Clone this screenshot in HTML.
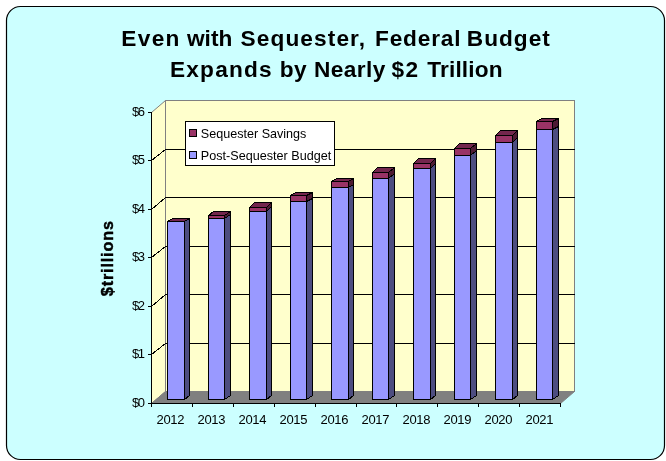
<!DOCTYPE html><html><head><meta charset="utf-8"><title>Chart</title>
<style>html,body{margin:0;padding:0;background:#fff}svg{display:block}text{font-family:"Liberation Sans",sans-serif;fill:#000}</style></head><body>
<svg width="666" height="461" viewBox="0 0 666 461">
<rect x="6.5" y="6.5" width="658" height="453" rx="14" ry="14" fill="#ccffff" stroke="#000" stroke-width="1.2"/>
<g shape-rendering="crispEdges">
<rect x="165.5" y="100.5" width="409.0" height="291.0" fill="#ffffcc" stroke="#808080" stroke-width="1"/>
</g>
<polygon points="151.5,112.5 165.5,100.5 165.5,391.5 151.5,403.5" fill="#ffffcc" stroke="#808080" stroke-width="1"/>
<polygon points="151.5,403.5 560.5,403.5 574.5,391.5 165.5,391.5" fill="#808080" stroke="#808080" stroke-width="1"/>
<g fill="none" stroke="#000" stroke-width="1" shape-rendering="crispEdges">
<polyline points="151.5,354.5 165.5,343.5 574.5,343.5"/>
<polyline points="151.5,306.5 165.5,294.5 574.5,294.5"/>
<polyline points="151.5,257.5 165.5,246.5 574.5,246.5"/>
<polyline points="151.5,209.5 165.5,197.5 574.5,197.5"/>
<polyline points="151.5,160.5 165.5,149.5 574.5,149.5"/>
</g>
<g stroke="#000" stroke-width="1" shape-rendering="crispEdges">
<line x1="151.5" y1="112.0" x2="151.5" y2="404.0"/>
<line x1="151.5" y1="403.5" x2="561.0" y2="403.5"/>
<line x1="148.0" y1="403.5" x2="151.5" y2="403.5"/>
<line x1="148.0" y1="354.5" x2="151.5" y2="354.5"/>
<line x1="148.0" y1="306.5" x2="151.5" y2="306.5"/>
<line x1="148.0" y1="257.5" x2="151.5" y2="257.5"/>
<line x1="148.0" y1="209.5" x2="151.5" y2="209.5"/>
<line x1="148.0" y1="160.5" x2="151.5" y2="160.5"/>
<line x1="148.0" y1="112.5" x2="151.5" y2="112.5"/>
<line x1="151.5" y1="403.5" x2="151.5" y2="407.0"/>
<line x1="192.5" y1="403.5" x2="192.5" y2="407.0"/>
<line x1="233.5" y1="403.5" x2="233.5" y2="407.0"/>
<line x1="274.5" y1="403.5" x2="274.5" y2="407.0"/>
<line x1="315.5" y1="403.5" x2="315.5" y2="407.0"/>
<line x1="356.5" y1="403.5" x2="356.5" y2="407.0"/>
<line x1="396.5" y1="403.5" x2="396.5" y2="407.0"/>
<line x1="437.5" y1="403.5" x2="437.5" y2="407.0"/>
<line x1="478.5" y1="403.5" x2="478.5" y2="407.0"/>
<line x1="519.5" y1="403.5" x2="519.5" y2="407.0"/>
<line x1="560.5" y1="403.5" x2="560.5" y2="407.0"/>
</g>
<g stroke="#000" stroke-width="1" shape-rendering="crispEdges">
<polygon points="184.5,399.5 189.5,395.5 189.5,218.5 184.5,221.5" fill="#4d4d80"/>
<polygon points="167.5,221.5 184.5,221.5 189.5,218.5 172.5,218.5" fill="#73264d"/>
<rect x="167.5" y="221.5" width="17" height="178.0" fill="#9999ff"/>
<polygon points="224.5,399.5 230.5,395.5 230.5,214.5 224.5,218.5" fill="#4d4d80"/>
<polygon points="224.5,218.5 230.5,214.5 230.5,211.5 224.5,215.5" fill="#4d1a33"/>
<polygon points="208.5,215.5 224.5,215.5 230.5,211.5 213.5,211.5" fill="#73264d"/>
<rect x="208.5" y="218.5" width="16" height="181.0" fill="#9999ff"/>
<rect x="208.5" y="215.5" width="16" height="3.0" fill="#993366"/>
<polygon points="266.5,399.5 271.5,395.5 271.5,206.5 266.5,211.5" fill="#4d4d80"/>
<polygon points="266.5,211.5 271.5,206.5 271.5,202.5 266.5,207.5" fill="#4d1a33"/>
<polygon points="249.5,207.5 266.5,207.5 271.5,202.5 254.5,202.5" fill="#73264d"/>
<rect x="249.5" y="211.5" width="17" height="188.0" fill="#9999ff"/>
<rect x="249.5" y="207.5" width="17" height="4.0" fill="#993366"/>
<polygon points="306.5,399.5 312.5,395.5 312.5,198.5 306.5,201.5" fill="#4d4d80"/>
<polygon points="306.5,201.5 312.5,198.5 312.5,192.5 306.5,195.5" fill="#4d1a33"/>
<polygon points="290.5,195.5 306.5,195.5 312.5,192.5 295.5,192.5" fill="#73264d"/>
<rect x="290.5" y="201.5" width="16" height="198.0" fill="#9999ff"/>
<rect x="290.5" y="195.5" width="16" height="6.0" fill="#993366"/>
<polygon points="348.5,399.5 353.5,395.5 353.5,184.5 348.5,187.5" fill="#4d4d80"/>
<polygon points="348.5,187.5 353.5,184.5 353.5,178.5 348.5,181.5" fill="#4d1a33"/>
<polygon points="331.5,181.5 348.5,181.5 353.5,178.5 336.5,178.5" fill="#73264d"/>
<rect x="331.5" y="187.5" width="17" height="212.0" fill="#9999ff"/>
<rect x="331.5" y="181.5" width="17" height="6.0" fill="#993366"/>
<polygon points="388.5,399.5 394.5,395.5 394.5,173.5 388.5,178.5" fill="#4d4d80"/>
<polygon points="388.5,178.5 394.5,173.5 394.5,167.5 388.5,172.5" fill="#4d1a33"/>
<polygon points="372.5,172.5 388.5,172.5 394.5,167.5 377.5,167.5" fill="#73264d"/>
<rect x="372.5" y="178.5" width="16" height="221.0" fill="#9999ff"/>
<rect x="372.5" y="172.5" width="16" height="6.0" fill="#993366"/>
<polygon points="430.5,399.5 435.5,395.5 435.5,163.5 430.5,168.5" fill="#4d4d80"/>
<polygon points="430.5,168.5 435.5,163.5 435.5,158.5 430.5,163.5" fill="#4d1a33"/>
<polygon points="413.5,163.5 430.5,163.5 435.5,158.5 418.5,158.5" fill="#73264d"/>
<rect x="413.5" y="168.5" width="17" height="231.0" fill="#9999ff"/>
<rect x="413.5" y="163.5" width="17" height="5.0" fill="#993366"/>
<polygon points="470.5,399.5 476.5,395.5 476.5,150.5 470.5,155.5" fill="#4d4d80"/>
<polygon points="470.5,155.5 476.5,150.5 476.5,143.5 470.5,148.5" fill="#4d1a33"/>
<polygon points="454.5,148.5 470.5,148.5 476.5,143.5 459.5,143.5" fill="#73264d"/>
<rect x="454.5" y="155.5" width="16" height="244.0" fill="#9999ff"/>
<rect x="454.5" y="148.5" width="16" height="7.0" fill="#993366"/>
<polygon points="512.5,399.5 517.5,395.5 517.5,137.5 512.5,142.5" fill="#4d4d80"/>
<polygon points="512.5,142.5 517.5,137.5 517.5,130.5 512.5,135.5" fill="#4d1a33"/>
<polygon points="495.5,135.5 512.5,135.5 517.5,130.5 500.5,130.5" fill="#73264d"/>
<rect x="495.5" y="142.5" width="17" height="257.0" fill="#9999ff"/>
<rect x="495.5" y="135.5" width="17" height="7.0" fill="#993366"/>
<polygon points="552.5,399.5 558.5,395.5 558.5,126.5 552.5,129.5" fill="#4d4d80"/>
<polygon points="552.5,129.5 558.5,126.5 558.5,118.5 552.5,121.5" fill="#4d1a33"/>
<polygon points="536.5,121.5 552.5,121.5 558.5,118.5 541.5,118.5" fill="#73264d"/>
<rect x="536.5" y="129.5" width="16" height="270.0" fill="#9999ff"/>
<rect x="536.5" y="121.5" width="16" height="8.0" fill="#993366"/>
</g>
<g shape-rendering="crispEdges">
<rect x="185.5" y="121.5" width="149" height="44" fill="#fff" stroke="#000"/>
<rect x="189.5" y="129.5" width="7" height="7" fill="#993366" stroke="#000"/>
<rect x="189.5" y="151.5" width="7" height="7" fill="#9999ff" stroke="#000"/>
</g>
<text x="200.8" y="137.6" font-size="13" textLength="105.6" lengthAdjust="spacingAndGlyphs">Sequester Savings</text>
<text x="200.8" y="159.6" font-size="13" textLength="130.4" lengthAdjust="spacingAndGlyphs">Post-Sequester Budget</text>
<text x="132" y="407.1" font-size="13" letter-spacing="-1.5">$0</text>
<text x="132" y="358.1" font-size="13" letter-spacing="-1.5">$1</text>
<text x="132" y="310.1" font-size="13" letter-spacing="-1.5">$2</text>
<text x="132" y="261.1" font-size="13" letter-spacing="-1.5">$3</text>
<text x="132" y="213.1" font-size="13" letter-spacing="-1.5">$4</text>
<text x="132" y="164.1" font-size="13" letter-spacing="-1.5">$5</text>
<text x="132" y="116.1" font-size="13" letter-spacing="-1.5">$6</text>
<text x="156.5" y="423.6" font-size="13" letter-spacing="-0.3">2012</text>
<text x="197.5" y="423.6" font-size="13" letter-spacing="-0.3">2013</text>
<text x="238.5" y="423.6" font-size="13" letter-spacing="-0.3">2014</text>
<text x="279.5" y="423.6" font-size="13" letter-spacing="-0.3">2015</text>
<text x="320.5" y="423.6" font-size="13" letter-spacing="-0.3">2016</text>
<text x="361.5" y="423.6" font-size="13" letter-spacing="-0.3">2017</text>
<text x="402.5" y="423.6" font-size="13" letter-spacing="-0.3">2018</text>
<text x="443.5" y="423.6" font-size="13" letter-spacing="-0.3">2019</text>
<text x="484.5" y="423.6" font-size="13" letter-spacing="-0.3">2020</text>
<text x="525.5" y="423.6" font-size="13" letter-spacing="-0.3">2021</text>
<text transform="translate(113.4,296.2) rotate(-90)" font-size="16.2" font-weight="bold" letter-spacing="0.85" stroke="#000" stroke-width="0.45">$trillions</text>
<text y="46" font-size="22.67" font-weight="bold"><tspan x="121.2" letter-spacing="1.367">Even</tspan> <tspan x="187.0" letter-spacing="0.0">with</tspan> <tspan x="240.5" letter-spacing="1.111">Sequester,</tspan> <tspan x="375.0" letter-spacing="0.833">Federal</tspan> <tspan x="466.8" letter-spacing="1.0">Budget</tspan></text>
<text y="76.5" font-size="22.67" font-weight="bold"><tspan x="169.9" letter-spacing="1.233">Expands</tspan> <tspan x="279.8" letter-spacing="0.3">by</tspan> <tspan x="314.1" letter-spacing="0.38">Nearly</tspan> <tspan x="391.4" letter-spacing="1.4">$2</tspan> <tspan x="427.2" letter-spacing="0.171">Trillion</tspan></text>
</svg></body></html>
